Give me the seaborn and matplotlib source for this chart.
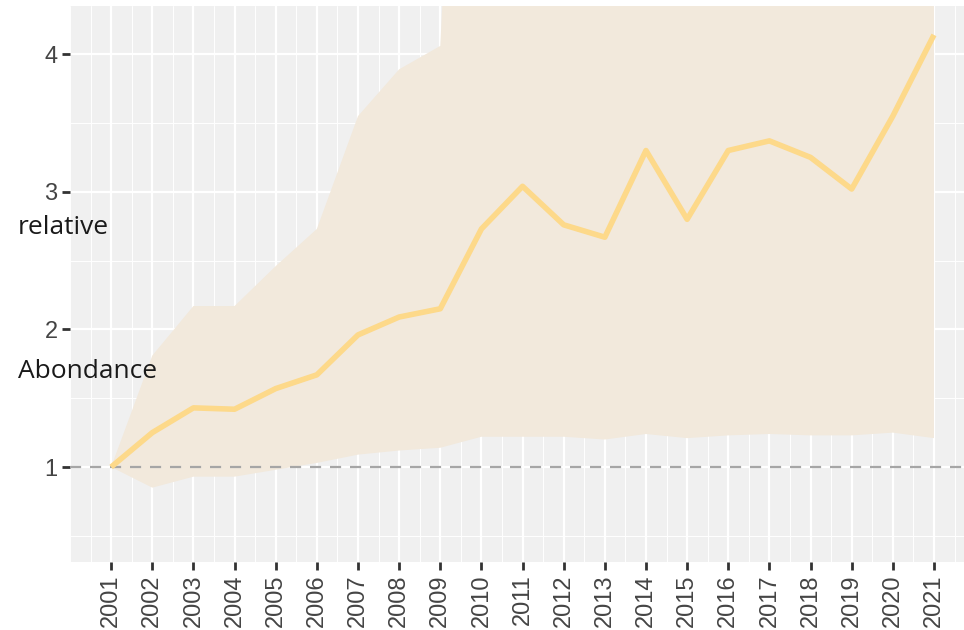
import numpy as np
import pandas as pd
import seaborn as sns
import matplotlib
matplotlib.use("Agg")
import matplotlib.pyplot as plt
from matplotlib.ticker import MultipleLocator

years = list(range(2001, 2022))
abundance = [1.00, 1.25, 1.43, 1.42, 1.57, 1.67, 1.96, 2.09, 2.15, 2.73, 3.04,
             2.76, 2.67, 3.30, 2.80, 3.30, 3.37, 3.25, 3.02, 3.55, 4.14]
lower = [1.00, 0.85, 0.93, 0.93, 0.98, 1.03, 1.09, 1.12, 1.14, 1.22, 1.22,
         1.22, 1.20, 1.24, 1.21, 1.23, 1.24, 1.23, 1.23, 1.25, 1.21]
upper = [1.00, 1.81, 2.17, 2.17, 2.46, 2.73, 3.55, 3.89, 4.06, 10.0, 10.0,
         10.0, 10.0, 10.0, 10.0, 10.0, 10.0, 10.0, 10.0, 10.0, 10.0]
ytick_vals = [1, 2, 3, 4]

df = pd.DataFrame({"year": years, "abundance": abundance, "lower": lower, "upper": upper})

sns.set_theme(style="darkgrid")
plt.rcParams["font.family"] = ["Liberation Sans", "DejaVu Sans"]

fig = plt.figure(figsize=(9.64, 6.30), dpi=100)
ax = fig.add_axes([70/964, (630-562)/630, (964-70)/964, (562-6)/630])
ax.set_facecolor("#F0F0F0")

ax.fill_between(df["year"], df["lower"], df["upper"], color="#F2E9DC", lw=0, zorder=2)
ax.axhline(1, color="#A6A6A6", lw=1.6, ls=(0, (5, 4)), zorder=3)
sns.lineplot(data=df, x="year", y="abundance", ax=ax, color="#FDD98A", lw=4,
             zorder=4, solid_capstyle="butt")

ax.set_xlim(2000.0, 2021.73)
ax.set_ylim(0.31, 4.35)
ax.set_xticks(years)
ax.set_xticklabels([str(y) for y in years], rotation=90)
ax.set_yticks(ytick_vals)
ax.set_yticklabels([str(v) for v in ytick_vals])
ax.xaxis.set_minor_locator(MultipleLocator(0.5))
ax.yaxis.set_minor_locator(MultipleLocator(0.5))
ax.grid(which="major", color="white", lw=1.6, zorder=1)
ax.grid(which="minor", color="white", lw=0.7, zorder=1)
ax.set_axisbelow(True)
for s in ax.spines.values():
    s.set_visible(False)
ax.tick_params(axis="both", which="major", length=6, width=2, color="#333333",
               labelsize=17, labelcolor="#444444", pad=3, bottom=True, left=True)
ax.tick_params(which="minor", length=0)
ax.set_xlabel("")
ax.set_ylabel("")

fig.text(18/964, 1-227/630, "relative", fontsize=19, family=["Open Sans", "DejaVu Sans"],
         color="#1a1a1a", ha="left", va="center")
fig.text(18/964, 1-371/630, "Abondance", fontsize=19, family=["Open Sans", "DejaVu Sans"],
         color="#1a1a1a", ha="left", va="center")

fig.savefig("out.png", dpi=100)
